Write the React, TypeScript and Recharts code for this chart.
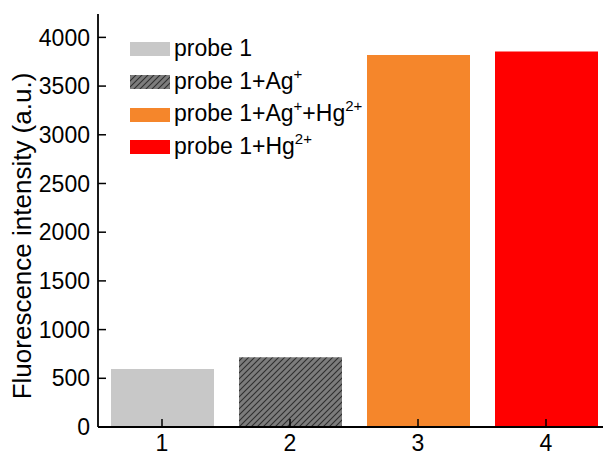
import React from 'react';
import { BarChart, Bar, XAxis, YAxis, Cell, Legend } from 'recharts';

const FONT = '"Liberation Sans", Arial, Helvetica, sans-serif';

const categories = [1, 2, 3, 4];
const intensity = [595, 715, 3820, 3855];
const yTicks = [0, 500, 1000, 1500, 2000, 2500, 3000, 3500, 4000];
const yMinorTicks = [250, 750, 1250, 1750, 2250, 2750, 3250, 3750];
const xMinorTicks = [1.5, 2.5, 3.5];
const seriesLabels: [string, string][][] = [
  [['probe 1', '']],
  [['probe 1+Ag', '+']],
  [['probe 1+Ag', '+'], ['+Hg', '2+']],
  [['probe 1+Hg', '2+']],
];
const fills = ['#c8c8c8', 'url(#hatch)', '#f5862b', '#ff0000'];
const legendFills = ['#c8c8c8', 'url(#hatchLegend)', '#f5862b', '#ff0000'];

const data = categories.map((c, i) => ({ x: c, value: intensity[i] }));

const Y_MAX = 4240;
const tickLineStyle = { stroke: '#000', strokeWidth: 1.5 };
const axisLineStyle = { stroke: '#000', strokeWidth: 1.8 };

function HatchPattern({ id }: { id: string }) {
  return (
    <pattern id={id} patternUnits="userSpaceOnUse" width="6" height="6">
      <rect x="0" y="0" width="6" height="6" fill="#7c7c7c" />
      <path d="M0,6 L6,0 M-1.5,1.5 L1.5,-1.5 M4.5,7.5 L7.5,4.5" stroke="#2e2e2e" strokeWidth="1.1" />
    </pattern>
  );
}

function LegendBox() {
  return (
    <div style={{ fontFamily: FONT, fontSize: 23, color: '#000' }}>
      <svg width="0" height="0" style={{ position: 'absolute' }}>
        <defs>
          <HatchPattern id="hatchLegend" />
        </defs>
      </svg>
      {seriesLabels.map((parts, i) => (
        <div key={i} style={{ display: 'flex', alignItems: 'center', height: 32.7, whiteSpace: 'nowrap' }}>
          <svg width="40" height="14" style={{ marginRight: 4, flex: 'none' }}>
            <rect x="0" y="0" width="40" height="14" fill={legendFills[i]} />
          </svg>
          <span style={{ position: 'relative', top: -1 }}>
            {parts.map(([t, s], j) => (
              <React.Fragment key={j}>
                {t}
                {s ? (
                  <span style={{ fontSize: 15, position: 'relative', top: -10 }}>{s}</span>
                ) : null}
              </React.Fragment>
            ))}
          </span>
        </div>
      ))}
    </div>
  );
}

function YLabel() {
  return (
    <text
      x={22}
      y={236}
      transform="rotate(-90 22 236)"
      textAnchor="middle"
      dominantBaseline="central"
      fontSize={26}
      fontFamily={FONT}
      fill="#000"
    >
      Fluorescence intensity (a.u.)
    </text>
  );
}

export default function App() {
  return (
    <div
      style={{
        position: 'fixed',
        left: 0,
        top: 0,
        width: 603,
        height: 455,
        overflow: 'hidden',
        background: '#fff',
      }}
    >
      <BarChart
        width={620}
        height={455}
        data={data}
        margin={{ top: 14, right: 10, left: 0, bottom: 0 }}
        style={{ fontFamily: FONT }}
      >
        <defs>
          <HatchPattern id="hatch" />
        </defs>
        <XAxis
          xAxisId="top"
          orientation="top"
          dataKey="x"
          type="number"
          domain={[0.5, 4.5]}
          height={0}
          tick={false}
          tickLine={false}
          axisLine={axisLineStyle}
        />
        <XAxis
          xAxisId="minor"
          dataKey="x"
          type="number"
          domain={[0.5, 4.5]}
          ticks={xMinorTicks}
          height={0}
          tickSize={-4}
          axisLine={false}
          tickLine={tickLineStyle}
          tickFormatter={() => ''}
        />
        <XAxis
          dataKey="x"
          type="number"
          domain={[0.5, 4.5]}
          ticks={categories}
          height={28}
          tickSize={-8}
          tickMargin={16}
          axisLine={axisLineStyle}
          tickLine={tickLineStyle}
          tick={{ fontSize: 23, fill: '#000', fontFamily: FONT }}
        />
        <YAxis
          yAxisId="minor"
          type="number"
          domain={[0, Y_MAX]}
          ticks={yMinorTicks}
          width={0}
          tickSize={-5}
          axisLine={false}
          tickLine={tickLineStyle}
          tickFormatter={() => ''}
        />
        <YAxis
          type="number"
          domain={[0, Y_MAX]}
          ticks={yTicks}
          width={98}
          tickSize={-8}
          tickMargin={16}
          axisLine={axisLineStyle}
          tickLine={tickLineStyle}
          tick={{ fontSize: 23, fill: '#000', fontFamily: FONT }}
          label={{ content: () => <YLabel /> }}
        />
        <Bar dataKey="value" barSize={103} isAnimationActive={false}>
          {data.map((d, i) => (
            <Cell key={i} fill={fills[i]} />
          ))}
        </Bar>
        <Legend
          layout="vertical"
          align="center"
          verticalAlign="middle"
          wrapperStyle={{ left: 130, top: 33, width: 320, height: 140 }}
          content={() => <LegendBox />}
        />
      </BarChart>
    </div>
  );
}
